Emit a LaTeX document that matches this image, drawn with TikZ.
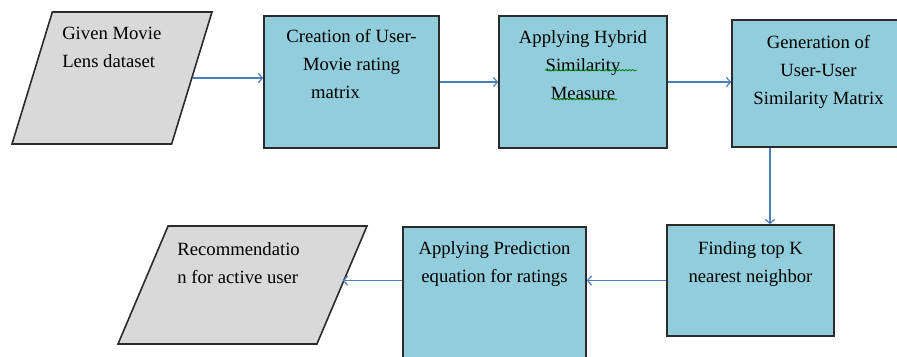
\documentclass[tikz,border=0pt]{standalone}
\usepackage{fontspec}
\setmainfont{Liberation Serif}
\usetikzlibrary{arrows.meta,shapes.geometric,decorations.pathmorphing}
\definecolor{boxblue}{HTML}{92CDDC}
\definecolor{boxgray}{HTML}{D9D9D9}
\definecolor{arrowblue}{HTML}{4A7EBB}
\definecolor{edgegray}{HTML}{2B2B2B}

\begin{document}
\begin{tikzpicture}[x=0.75pt,y=-0.75pt,
	font=\fontsize{14}{21}\selectfont,
	proc/.style={draw=edgegray, line width=1.2pt, fill=boxblue, rectangle, inner sep=0pt},
	io/.style={draw=edgegray, line width=1.2pt, fill=boxgray, trapezium, inner xsep=0pt,
		trapezium stretches body},
	txtc/.style={align=center, anchor=north, inner sep=0pt},
	txtl/.style={align=left, anchor=north west, inner sep=0pt},
	arr/.style={draw=arrowblue, line width=0.9pt, -{Straight Barb[length=3pt,width=7pt]}},
	squig/.style={draw=green!50!black, line width=0.6pt, decorate,
		decoration={snake, amplitude=0.5pt, segment length=2.5pt}}]
	\useasboundingbox (0,0) rectangle (897,357);
	
	% Top row
	\node[io, trapezium left angle=73, trapezium right angle=107,
		inner ysep=49.5pt, minimum width=150pt,
		label={[txtl, xshift=-37.5pt, yshift=-12pt]north:{Given Movie\\Lens dataset}}]
		(given) at (112,78) {};
	\node[proc, minimum width=131.25pt, minimum height=99pt,
		label={[txtc, yshift=-10.5pt]north:{Creation of User-\\Movie rating\\matrix\hspace*{24pt}}}]
		(creat) at (351.5,82) {};
	\node[proc, minimum width=126pt, minimum height=99pt,
		label={[txtc, yshift=-11.25pt]north:{Applying Hybrid\\Similarity\\Measure}}]
		(hybrid) at (583,82) {};
	\node[proc, minimum width=129.75pt, minimum height=95.25pt,
		label={[txtc, yshift=-12pt]north:{Generation of\\User-User\\Similarity Matrix}}]
		(gen) at (818.5,83.5) {};
	
	% Bottom row
	\node[proc, minimum width=125.25pt, minimum height=83.25pt,
		label={[txtc, yshift=-12.75pt]north:{Finding top K\\nearest neighbor}}]
		(knn) at (750.5,280.5) {};
	\node[proc, minimum width=137.25pt, minimum height=114.75pt,
		label={[txtc, yshift=-11.25pt]north:{Applying Prediction\\equation for ratings}}]
		(pred) at (494.5,303.5) {};
	\node[io, trapezium left angle=67, trapezium right angle=113,
		inner ysep=44.25pt, minimum width=186.75pt,
		label={[txtl, xshift=-49pt, yshift=-12.5pt]north:{Recommendatio\\n for active user}}]
		(recom) at (242.5,285) {};
	
	% Spelling marks
	\draw[squig] ([xshift=-28.5pt,yshift=-41.25pt]hybrid.north) -- ++(69pt,0);
	\draw[squig] ([xshift=-22.5pt,yshift=-63pt]hybrid.north) -- ++(48pt,0);
	
	% Flow
	\draw[arr] (given.east) -- (given.east -| creat.west);
	\draw[arr] (creat.east) -- (hybrid.west);
	\draw[arr] (hybrid.east) -- (hybrid.east -| gen.west);
	\draw[arr] ([xshift=-36.4pt]gen.south) -- ([xshift=-36.4pt]gen.south |- knn.north);
	\draw[arr] (knn.west) -- (knn.west -| pred.east);
	\draw[arr] (pred.west |- knn.west) -- (recom.east |- knn.west);
	
\end{tikzpicture}
\end{document}
